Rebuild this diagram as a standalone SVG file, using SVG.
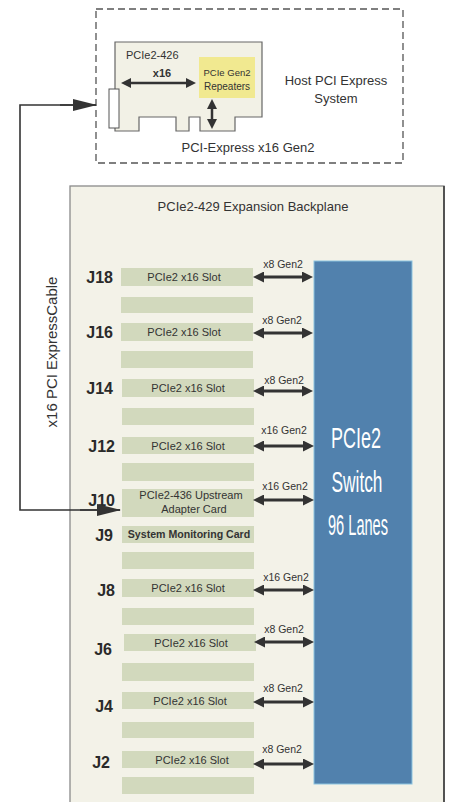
<svg xmlns="http://www.w3.org/2000/svg" width="450" height="802" viewBox="0 0 450 802">
<style>
text{font-family:"Liberation Sans",Arial,sans-serif;fill:#333}
.slot{fill:#d2d9bd}
.st{font-size:11px;text-anchor:middle}
.j{font-size:16px;font-weight:bold;text-anchor:end;fill:#2a2a2a}
.lbl{font-size:10.5px;text-anchor:middle}
.da{stroke:#333;stroke-width:3;fill:none;marker-start:url(#ah);marker-end:url(#ah)}
.sw{font-size:30px;fill:#fff;text-anchor:middle}
</style>
<defs>
<marker id="ah" markerUnits="userSpaceOnUse" markerWidth="11" markerHeight="11" refX="6" refY="5.5" orient="auto-start-reverse" viewBox="0 0 11 11"><path d="M0,0 L11,5.5 L0,11 z" fill="#333"/></marker>
<marker id="ah2" markerUnits="userSpaceOnUse" markerWidth="10" markerHeight="10" refX="6" refY="5" orient="auto-start-reverse" viewBox="0 0 10 10"><path d="M0,0 L10,5 L0,10 z" fill="#333"/></marker>
<marker id="big" markerUnits="userSpaceOnUse" markerWidth="24" markerHeight="12" refX="23" refY="6" orient="auto" viewBox="0 0 24 12"><path d="M0,0 L24,6 L0,12 z" fill="#333"/></marker>
</defs>

<g id="host-system">
<rect x="96" y="9" width="307" height="154" fill="none" stroke="#555" stroke-width="1.3" stroke-dasharray="7,4"/>
<text x="336" y="85" style="font-size:13px;text-anchor:middle">Host PCI Express</text>
<text x="336" y="103" style="font-size:13px;text-anchor:middle">System</text>
<text x="248" y="152" style="font-size:13px;text-anchor:middle">PCI-Express x16 Gen2</text>
</g>

<g id="card-426">
<path d="M115,42 H262 V117 H235 V131 H200 V117 H189 V131 H176 V117 H139 V131 H115 Z" fill="#f2f1e6" stroke="#666" stroke-width="1.2"/>
<rect x="109" y="89" width="10" height="39" fill="#fff" stroke="#555" stroke-width="1"/>
<rect x="199" y="57" width="56" height="41" fill="#f1e990"/>
<text x="126" y="59" style="font-size:11px">PCIe2-426</text>
<text x="162" y="77" style="font-size:11px;font-weight:bold;text-anchor:middle">x16</text>
<text x="227" y="76" style="font-size:9.5px;text-anchor:middle">PCIe Gen2</text>
<text x="227" y="90" style="font-size:10px;text-anchor:middle">Repeaters</text>
<line x1="125" y1="83" x2="192" y2="83" stroke="#333" stroke-width="2.5" marker-start="url(#ah2)" marker-end="url(#ah2)"/>
<line x1="212" y1="103" x2="212" y2="125" stroke="#333" stroke-width="2.5" marker-start="url(#ah2)" marker-end="url(#ah2)"/>
</g>

<g id="backplane">
<rect x="70" y="186" width="374" height="630" fill="#f3f2e8" stroke="#8a8a8a" stroke-width="1.3"/>
<line x1="444" y1="186" x2="444" y2="802" stroke="#333" stroke-width="1.5"/>
<text x="253" y="211" style="font-size:13px;text-anchor:middle">PCIe2-429 Expansion Backplane</text>
</g>

<g id="slots">
<rect class="slot" x="121" y="268" width="132" height="18"/>
<rect class="slot" x="121" y="297" width="132" height="16"/>
<rect class="slot" x="121" y="323" width="132" height="18"/>
<rect class="slot" x="121" y="351" width="132" height="17"/>
<rect class="slot" x="122" y="379" width="132" height="18"/>
<rect class="slot" x="122" y="408" width="132" height="17"/>
<rect class="slot" x="122" y="437" width="132" height="17"/>
<rect class="slot" x="122" y="463" width="132" height="18"/>
<rect class="slot" x="122" y="489" width="132" height="28"/>
<rect class="slot" x="122" y="526" width="132" height="17"/>
<rect class="slot" x="122" y="552" width="132" height="17"/>
<rect class="slot" x="122" y="579" width="132" height="18"/>
<rect class="slot" x="122" y="608" width="132" height="17"/>
<rect class="slot" x="124" y="634" width="132" height="17"/>
<rect class="slot" x="122" y="663" width="132" height="18"/>
<rect class="slot" x="122" y="692" width="132" height="17"/>
<rect class="slot" x="122" y="722" width="132" height="16"/>
<rect class="slot" x="122" y="751" width="132" height="17"/>
<rect class="slot" x="122" y="777" width="132" height="17"/>
<text class="st" x="184" y="281">PCIe2 x16 Slot</text>
<text class="st" x="184" y="336">PCIe2 x16 Slot</text>
<text class="st" x="188" y="392">PCIe2 x16 Slot</text>
<text class="st" x="188" y="450">PCIe2 x16 Slot</text>
<text class="st" x="191" y="499">PCIe2-436 Upstream</text>
<text class="st" x="194" y="513">Adapter Card</text>
<text x="189" y="538" style="font-size:10.6px;font-weight:bold;text-anchor:middle">System Monitoring Card</text>
<text class="st" x="188" y="592">PCIe2 x16 Slot</text>
<text class="st" x="191" y="647">PCIe2 x16 Slot</text>
<text class="st" x="190" y="705">PCIe2 x16 Slot</text>
<text class="st" x="192" y="764">PCIe2 x16 Slot</text>
<text class="j" x="113" y="283">J18</text>
<text class="j" x="113" y="338">J16</text>
<text class="j" x="113" y="394">J14</text>
<text class="j" x="115" y="452">J12</text>
<text class="j" x="115" y="506">J10</text>
<text class="j" x="113" y="541">J9</text>
<text class="j" x="115" y="596">J8</text>
<text class="j" x="112" y="655">J6</text>
<text class="j" x="113" y="712">J4</text>
<text class="j" x="110" y="768">J2</text>
</g>

<g id="switch">
<rect x="314" y="261" width="98" height="523" fill="#5181ad" stroke="#8cc3df" stroke-width="1"/>
<text class="sw" x="356" y="448" textLength="50" lengthAdjust="spacingAndGlyphs">PCIe2</text>
<text class="sw" x="357" y="492" textLength="51" lengthAdjust="spacingAndGlyphs">Switch</text>
<text class="sw" x="358" y="535" textLength="60" lengthAdjust="spacingAndGlyphs">96 Lanes</text>
</g>

<g id="connectors">
<line class="da" x1="258" y1="277" x2="308" y2="277"/>
<line class="da" x1="258" y1="333" x2="308" y2="333"/>
<line class="da" x1="258" y1="391" x2="308" y2="391"/>
<line class="da" x1="258" y1="446" x2="309" y2="446"/>
<line class="da" x1="258" y1="500" x2="309" y2="500"/>
<line class="da" x1="258" y1="590" x2="309" y2="590"/>
<line class="da" x1="259" y1="642" x2="309" y2="642"/>
<line class="da" x1="258" y1="702" x2="309" y2="702"/>
<line class="da" x1="258" y1="764" x2="309" y2="764"/>
<text class="lbl" x="283" y="268">x8 Gen2</text>
<text class="lbl" x="282" y="324">x8 Gen2</text>
<text class="lbl" x="284" y="384">x8 Gen2</text>
<text class="lbl" x="284" y="434">x16 Gen2</text>
<text class="lbl" x="285" y="490">x16 Gen2</text>
<text class="lbl" x="286" y="581">x16 Gen2</text>
<text class="lbl" x="284" y="633">x8 Gen2</text>
<text class="lbl" x="283" y="692">x8 Gen2</text>
<text class="lbl" x="282" y="753">x8 Gen2</text>
<path d="M96,105 H20 V510 H120" fill="none" stroke="#333" stroke-width="1.6"/>
<line x1="60" y1="105" x2="96" y2="105" stroke="#333" stroke-width="1.6" marker-end="url(#big)"/>
<line x1="80" y1="510" x2="120" y2="510" stroke="#333" stroke-width="1.6" marker-end="url(#big)"/>
<text transform="translate(57,352) rotate(-90)" style="font-size:15px;text-anchor:middle">x16 PCI ExpressCable</text>
</g>
</svg>
